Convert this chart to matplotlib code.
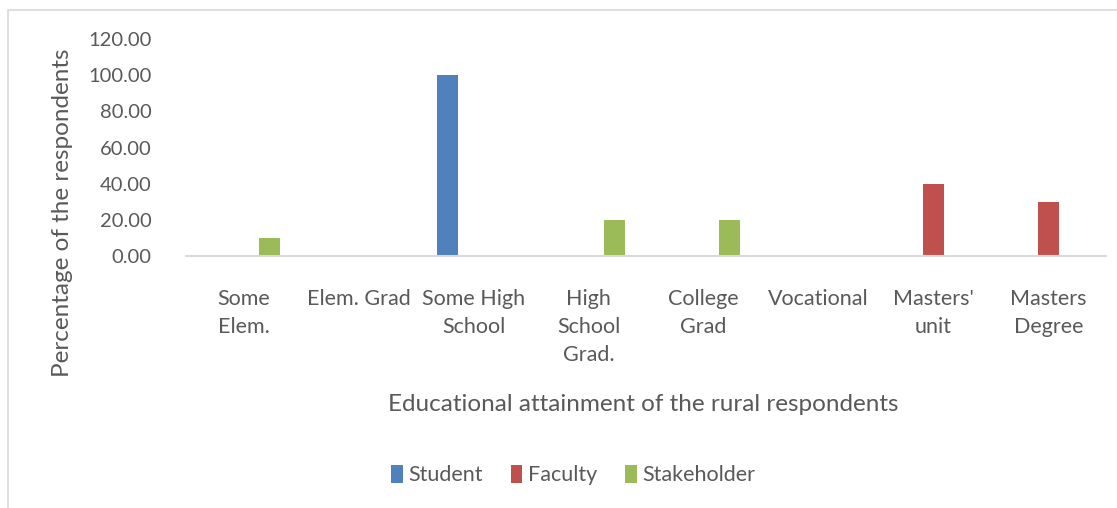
import numpy as np
import matplotlib.pyplot as plt
from matplotlib.patches import Rectangle

categories = ["Some\nElem.", "Elem. Grad", "Some High\nSchool", "High\nSchool\nGrad.",
              "College\nGrad", "Vocational", "Masters'\nunit", "Masters\nDegree"]
series_names = ["Student", "Faculty", "Stakeholder"]
student = [0, 0, 100, 0, 0, 0, 0, 0]
faculty = [0, 0, 0, 0, 0, 0, 40, 30]
stakeholder = [10, 0, 0, 20, 20, 0, 0, 0]
yticks = [0, 20, 40, 60, 80, 100, 120]

colors = ["#4F81BD", "#C0504D", "#9BBB59"]
text_color = "#595959"
plt.rcParams['font.family'] = ['Lato', 'DejaVu Sans']

fig = plt.figure(figsize=(11.17, 5.08), dpi=100)
ax = fig.add_axes([0.1665, 0.496, 0.8236, 0.427])

x = np.arange(len(categories))
w = 0.178
off = 0.225
for i, (vals, name) in enumerate(zip([student, faculty, stakeholder], series_names)):
    ax.bar(x + (i - 1) * off, vals, width=w, color=colors[i], label=name)

ax.set_xlim(-0.5, len(categories) - 0.5)
ax.set_ylim(0, 120)
ax.set_yticks(yticks)
ax.set_yticklabels([f"{v:.2f}" for v in yticks], fontsize=14.5, color=text_color)
ax.set_xticks(x)
ax.set_xticklabels(categories, fontsize=15.5, color=text_color, linespacing=1.5, va="top")
ax.tick_params(axis="both", length=0)
ax.tick_params(axis="y", pad=25)
ax.tick_params(axis="x", pad=24)
for s in ["top", "right", "left"]:
    ax.spines[s].set_visible(False)
ax.spines["bottom"].set_color("#D9D9D9")
ax.spines["bottom"].set_linewidth(1.5)

fig.text(0.056, 0.582, "Percentage of the respondents", rotation=90, ha="center", va="center",
         fontsize=17.5, color=text_color)
fig.text(0.576, 0.203, "Educational attainment of the rural respondents", ha="center", va="center",
         fontsize=17.5, color=text_color)

ax.legend(loc="center", bbox_to_anchor=(0.513, 0.065), bbox_transform=fig.transFigure, ncol=3,
          frameon=False, fontsize=15.5, handlelength=0.55, handleheight=0.9, handletextpad=0.25,
          columnspacing=1.3, labelcolor=text_color)

fig.add_artist(Rectangle((0.007, -0.01), 1.0, 0.99, transform=fig.transFigure,
                         fill=False, edgecolor="#D9D9D9", linewidth=1.2))

fig.savefig("out.png", dpi=100)
